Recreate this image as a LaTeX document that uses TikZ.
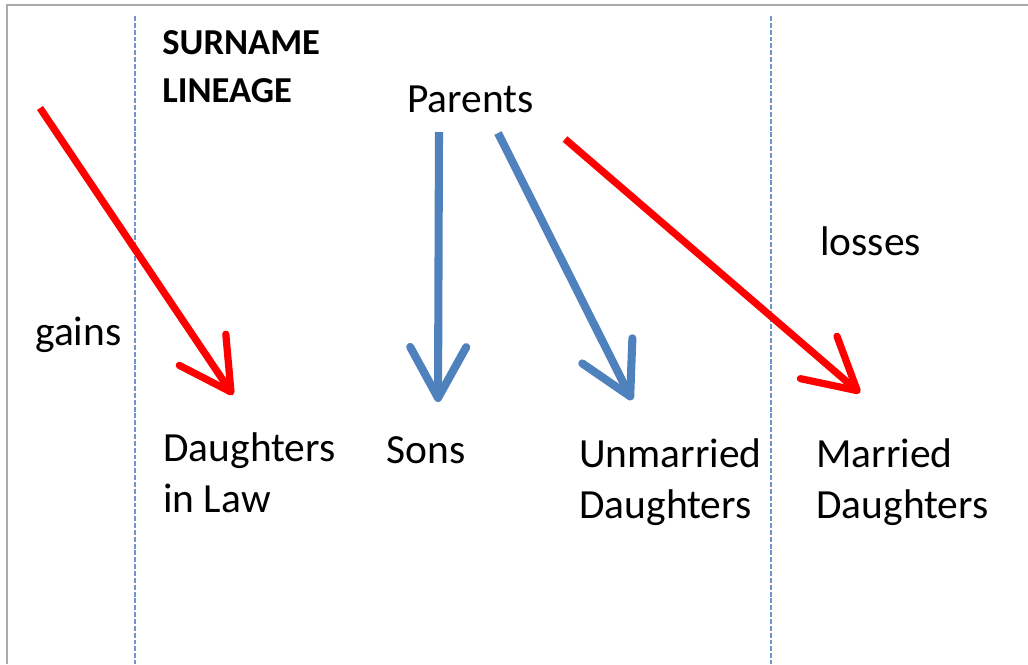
\documentclass[tikz,border=0pt]{standalone}
\usepackage{fontspec}
\setmainfont{Carlito}
\usetikzlibrary{arrows.meta}
\definecolor{arrowblue}{RGB}{79,129,189}
\definecolor{framegray}{RGB}{170,170,170}
\definecolor{sepblue}{RGB}{110,150,205}
\begin{document}
\begin{tikzpicture}[x=0.02cm,y=-0.02cm,
    txt/.style={anchor=base west,inner sep=0pt,align=left,
        font=\fontsize{23.6pt}{29pt}\selectfont},
    staying/.style={line width=4.6pt,arrowblue,
        -{Straight Barb[length=29pt,width=31.9pt,round]}},
    moving/.style={line width=4.1pt,red,
        -{Straight Barb[length=29pt,width=31.9pt,round]}},
    divider/.style={sepblue,line width=0.9pt,dash pattern=on 2.8pt off 1.1pt}]
    \useasboundingbox (0,0) rectangle (1028,664);
    \draw [framegray,line width=1.2pt] (7,664) -- (7,5) -- (1028,5);
    \draw [divider] (135,16) -- (135,664);
    \draw [divider] (771,16) -- (771,664);

    \node [txt,font=\bfseries\fontsize{20.8pt}{27pt}\selectfont] (lineage) at (162,102) {SURNAME\\LINEAGE};
    \node [txt] (parents) at (407,112) {Parents};
    \node [txt] (gains) at (35,345) {gains};
    \node [txt] (losses) at (820,255) {losses};
    \node [txt] (inlaw) at (163,512) {Daughters\\in Law};
    \node [txt] (sons) at (386,463) {Sons};
    \node [txt] (unmarried) at (579,518) {Unmarried\\Daughters};
    \node [txt] (married) at (816,518) {Married\\Daughters};

    \coordinate (gainfrom) at (40,108);
    \coordinate (gainto) at (233,395);
    \coordinate (sonsfrom) at (439,132);
    \coordinate (sonsto) at (438,402);
    \coordinate (unmfrom) at (498,133);
    \coordinate (unmto) at (632,400);
    \coordinate (lossfrom) at (565,139);
    \coordinate (lossto) at (860,393);

    \draw [moving] (gainfrom) -- (gainto);
    \draw [staying] (sonsfrom) -- (sonsto);
    \draw [staying] (unmfrom) -- (unmto);
    \draw [moving] (lossfrom) -- (lossto);
\end{tikzpicture}
\end{document}
